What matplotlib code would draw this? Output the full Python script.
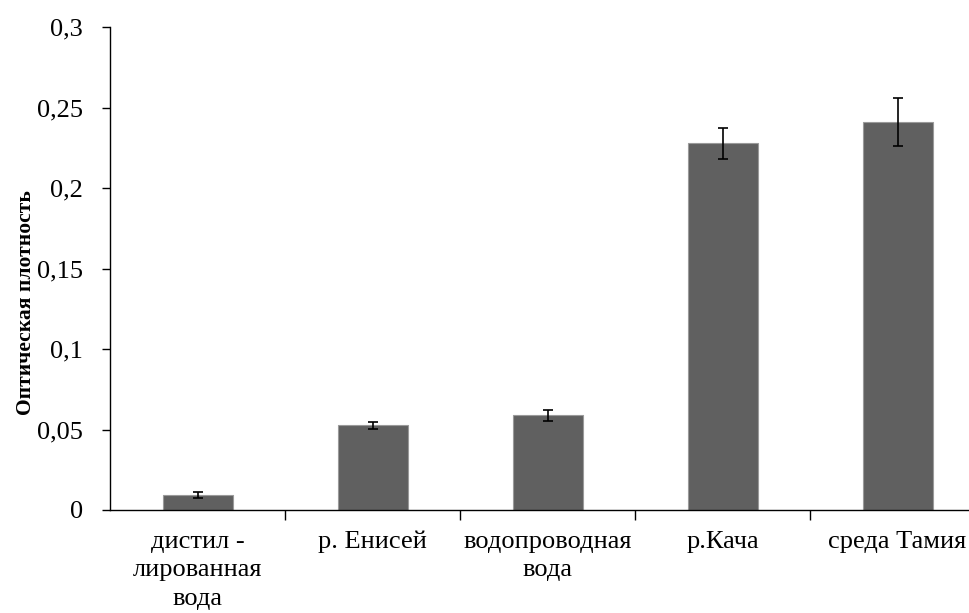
import matplotlib
matplotlib.use("Agg")
import matplotlib.pyplot as plt
from matplotlib.ticker import FixedLocator, FuncFormatter

# --- data ---
categories = ["дистил -\nлированная\nвода", "р. Енисей", "водопроводная\nвода",
              "р.Кача", "среда Тамия"]
values = [0.0092, 0.0526, 0.0588, 0.2278, 0.2408]
errors = [0.0020, 0.0020, 0.0034, 0.0097, 0.0149]
y_ticks = [0, 0.05, 0.1, 0.15, 0.2, 0.25, 0.3]

BAR_COLOR = "#606060"
EDGE_COLOR = "#9a9a9a"
SERIF = ["Liberation Serif", "DejaVu Serif"]

plt.rcParams["font.family"] = SERIF

fig = plt.figure(figsize=(9.69, 6.13), dpi=100)
# axes runs past the right edge, as in the cropped original
ax = fig.add_axes([110 / 969, 1 - 510 / 613, 875 / 969, 483 / 613])

x = list(range(len(categories)))
ax.bar(x, values, width=0.4, color=BAR_COLOR, edgecolor=EDGE_COLOR, linewidth=0.8,
       zorder=2)
ax.errorbar(x, values, yerr=errors, fmt="none", ecolor="black", elinewidth=1.2,
            capsize=3.5, capthick=1.2, zorder=3)

ax.set_xlim(-0.5, len(categories) - 0.5)
ax.set_ylim(0, 0.3)

ax.set_xticks(x)
ax.set_xticklabels(categories, fontsize=19, linespacing=1.38, va="top")
ax.tick_params(axis="x", which="major", length=0, pad=15)
ax.xaxis.set_minor_locator(FixedLocator([i + 0.5 for i in range(len(categories) - 1)]))
ax.tick_params(axis="x", which="minor", length=7, width=1, direction="out")

ax.yaxis.set_major_locator(FixedLocator(y_ticks))
ax.yaxis.set_major_formatter(FuncFormatter(lambda v, _: f"{v:g}".replace(".", ",")))
ax.tick_params(axis="y", length=6, width=1, direction="out", labelsize=19, pad=13.5)

ax.set_ylabel("Оптическая плотность", fontsize=15.5, fontweight="bold")
ax.yaxis.set_label_coords(-0.085, 0.43)

for side in ["top", "right"]:
    ax.spines[side].set_visible(False)
for side in ["left", "bottom"]:
    ax.spines[side].set_color("black")
    ax.spines[side].set_linewidth(1)

fig.savefig("out.png", dpi=100, facecolor="white")
